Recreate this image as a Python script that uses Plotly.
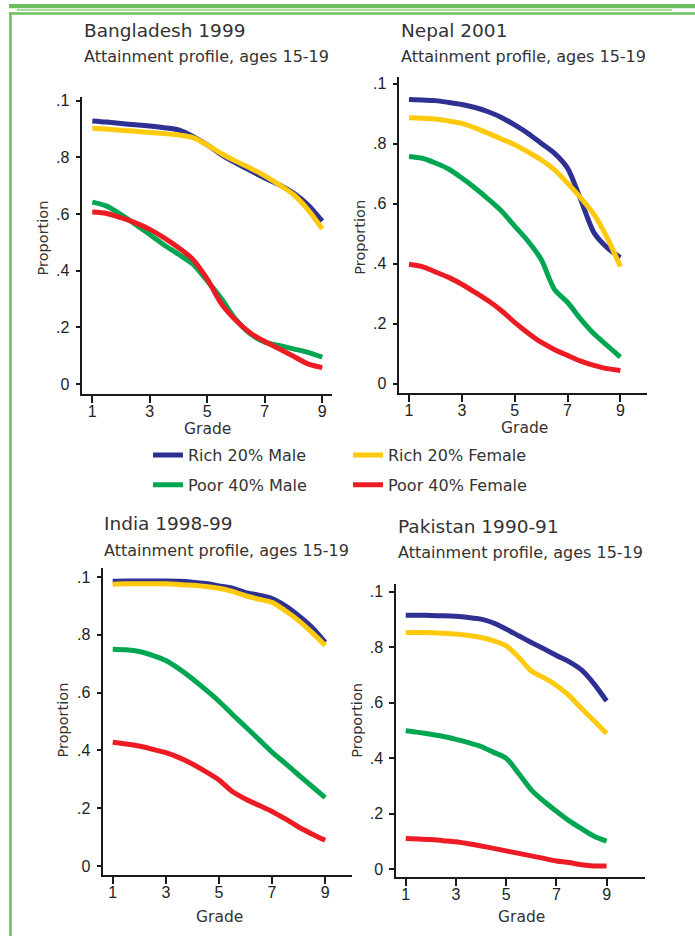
import plotly.graph_objects as go

# ---------------- data ----------------
grades = [1, 1.5, 2, 2.5, 3, 3.5, 4, 4.5, 5, 5.5, 6, 6.5, 7, 7.5, 8, 8.5, 9]

series_names = ["Rich 20% Male", "Rich 20% Female", "Poor 40% Male", "Poor 40% Female"]
series_colors = ["#2e3192", "#ffc90e", "#00a651", "#ed1c24"]

panel_titles = ["Bangladesh 1999", "Nepal 2001", "India 1998-99", "Pakistan 1990-91"]
subtitle = "Attainment profile, ages 15-19"

y_tickvals = [0, 0.2, 0.4, 0.6, 0.8, 1.0]
y_ticktext = ["0", ".2", ".4", ".6", ".8", ".1"]
x_tickvals = [1, 3, 5, 7, 9]

bgd_rich_m = [.929, .925, .920, .915, .911, .905, .897, .874, .844, .809, .780, .754, .727, .704, .674, .633, .575]
bgd_rich_f = [.903, .900, .896, .892, .888, .884, .879, .870, .844, .813, .786, .762, .735, .704, .669, .616, .548]
bgd_poor_m = [.642, .628, .598, .563, .528, .491, .458, .423, .364, .300, .227, .177, .148, .136, .124, .112, .095]
bgd_poor_f = [.607, .602, .587, .569, .546, .516, .481, .440, .370, .282, .224, .180, .150, .124, .098, .071, .058]

npl_rich_m = [.947, .945, .943, .937, .930, .920, .906, .887, .862, .834, .801, .768, .718, .613, .503, .453, .420]
npl_rich_f = [.886, .884, .882, .875, .867, .852, .834, .815, .796, .772, .746, .713, .668, .619, .564, .486, .390]
npl_poor_m = [.757, .751, .735, .715, .685, .652, .615, .575, .525, .475, .414, .315, .271, .215, .166, .127, .088]
npl_poor_f = [.398, .390, .372, .354, .331, .304, .276, .243, .204, .169, .138, .114, .094, .075, .061, .050, .044]

ind_rich_m = [.985, .986, .986, .986, .986, .985, .982, .977, .969, .961, .946, .937, .925, .900, .866, .826, .774]
ind_rich_f = [.975, .976, .976, .976, .976, .974, .971, .967, .961, .950, .935, .923, .912, .883, .849, .808, .763]
ind_poor_m = [.750, .748, .742, .729, .711, .682, .648, .610, .570, .525, .482, .438, .394, .355, .315, .276, .237]
ind_poor_f = [.428, .422, .415, .404, .392, .375, .353, .327, .298, .258, .232, .210, .189, .163, .135, .111, .089]

pak_rich_m = [.915, .915, .914, .913, .911, .907, .901, .887, .865, .841, .817, .794, .770, .748, .718, .668, .606]
pak_rich_f = [.853, .853, .852, .850, .847, .842, .835, .823, .805, .764, .714, .690, .662, .626, .579, .535, .489]
pak_poor_m = [.499, .493, .486, .478, .468, .456, .442, .421, .400, .345, .286, .245, .209, .175, .146, .119, .101]
pak_poor_f = [.111, .109, .107, .103, .099, .092, .084, .075, .066, .057, .048, .039, .030, .024, .016, .012, .012]

panels_data = [
    [bgd_rich_m, bgd_rich_f, bgd_poor_m, bgd_poor_f],
    [npl_rich_m, npl_rich_f, npl_poor_m, npl_poor_f],
    [ind_rich_m, ind_rich_f, ind_poor_m, ind_poor_f],
    [pak_rich_m, pak_rich_f, pak_poor_m, pak_poor_f],
]

# ---------------- layout geometry (pixels) ----------------
W, H = 695, 937
# (left, right, top, bottom) of each plot area in px, and axis ranges
boxes = [
    (82.3, 331.7, 93.3, 392.3),
    (399.3, 647.3, 73.3, 391.0),
    (103.3, 351.7, 566.7, 876.0),
    (396.0, 645.0, 582.7, 877.7),
]
xranges = [[0.652, 9.33], [0.633, 10.02], [0.645, 10.0], [0.613, 10.53]]
yranges = [[-0.036, 1.014], [-0.031, 1.022], [-0.032, 1.032], [-0.028, 1.029]]

title_pos = [(82, 27), (399, 27), (102, 522), (396, 525)]
sub_pos = [(82, 53), (399, 53), (102, 549), (396, 551)]
ytitle_pos = [(42.7, 235), (360, 235), (63.3, 720), (356.7, 720)]
xtitle_pos = [(207.7, 427), (524, 426), (220, 918), (521.7, 918)]

def px(x):
    return x / W

def py(y):
    return 1 - y / H

fig = go.Figure()
FONT = "DejaVu Sans, Verdana, sans-serif"
TICKFONT = "Liberation Sans, Arial, sans-serif"
TEXT = "#333333"

legend_of = ["legend", "legend2", "legend", "legend2"]
groups = ["rm", "rf", "pm", "pf"]

for p in range(4):
    sfx = "" if p == 0 else str(p + 1)
    for s in range(4):
        fig.add_trace(go.Scatter(
            x=grades, y=panels_data[p][s], mode="lines",
            line=dict(color=series_colors[s], width=5, shape="spline", smoothing=0.8),
            name=series_names[s], legendgroup=groups[s],
            legend=legend_of[s], showlegend=(p == 0),
            xaxis="x" + sfx, yaxis="y" + sfx, hoverinfo="skip",
        ))
    l, r, t, b = boxes[p]
    axis_common = dict(showline=True, linecolor="#1a1a1a", linewidth=1.5,
                       ticks="outside", tickcolor="#1a1a1a", tickwidth=1.5,
                       showgrid=False, zeroline=False,
                       tickfont=dict(family=TICKFONT, size=16, color="#222222"))
    fig.update_layout(**{
        "xaxis" + sfx: dict(domain=[px(l), px(r)], range=xranges[p],
                            anchor="y" + sfx, tickvals=x_tickvals, ticklen=7,
                            ticklabelstandoff=-5, **axis_common),
        "yaxis" + sfx: dict(domain=[py(b), py(t)], range=yranges[p],
                            anchor="x" + sfx, tickvals=y_tickvals, ticktext=y_ticktext,
                            ticklen=5, ticklabelstandoff=3, **axis_common),
    })
    fig.add_annotation(text=panel_titles[p], x=px(title_pos[p][0]), y=py(title_pos[p][1]),
                       xref="paper", yref="paper", xanchor="left", yanchor="middle",
                       showarrow=False, font=dict(family=FONT, size=18.5, color=TEXT))
    fig.add_annotation(text=subtitle, x=px(sub_pos[p][0]), y=py(sub_pos[p][1]),
                       xref="paper", yref="paper", xanchor="left", yanchor="middle",
                       showarrow=False, font=dict(family=FONT, size=16, color=TEXT))
    fig.add_annotation(text="Proportion", x=px(ytitle_pos[p][0]), y=py(ytitle_pos[p][1]),
                       xref="paper", yref="paper", xanchor="center", yanchor="middle",
                       textangle=-90, showarrow=False,
                       font=dict(family=FONT, size=14.5, color=TEXT))
    fig.add_annotation(text="Grade", x=px(xtitle_pos[p][0]), y=py(xtitle_pos[p][1]),
                       xref="paper", yref="paper", xanchor="center", yanchor="middle",
                       showarrow=False, font=dict(family=FONT, size=15.5, color=TEXT))

# frame decoration (green page border)
GREEN = "#6fbf5f"
frame = [
    (9, 695, 0, 4.2, GREEN),
    (17, 672, 5.4, 6.8, "#8ccf7c"),
    (9, 695, 8.3, 10.8, GREEN),
    (9.2, 11.8, 8.3, 937, GREEN),
]
for x0, x1, y0, y1, c in frame:
    fig.add_shape(type="rect", xref="paper", yref="paper",
                  x0=px(x0), x1=px(x1), y0=py(y1), y1=py(y0),
                  fillcolor=c, line=dict(width=0), layer="above")

legend_style = dict(orientation="v", xanchor="left", yanchor="top",
                    bgcolor="rgba(0,0,0,0)", borderwidth=0, tracegroupgap=6,
                    font=dict(family=FONT, size=16, color=TEXT), traceorder="grouped")
fig.update_layout(
    width=W, height=H,
    margin=dict(l=0, r=0, t=0, b=0),
    paper_bgcolor="white", plot_bgcolor="white",
    showlegend=True,
    legend=dict(x=px(148), y=py(436.5), **legend_style),
    legend2=dict(x=px(348), y=py(436.5), **legend_style),
)

post = ("document.body.style.margin='0px';document.body.style.padding='0px';"
        "var d=document.getElementById('{plot_id}');"
        "d.style.position='absolute';d.style.left='0px';d.style.top='0px';")
fig.write_html("out.html", post_script=post, config={"displayModeBar": False})
